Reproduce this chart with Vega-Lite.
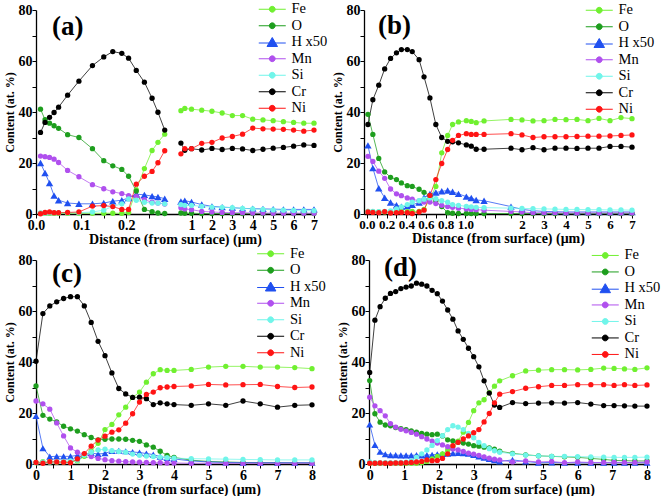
{
"$schema": "https://vega.github.io/schema/vega-lite/v6.json",
"padding": {"left": 3, "top": 2, "right": 0, "bottom": 0},
"config": {
 "view": {"stroke": null},
 "font": "Liberation Serif, Times New Roman, serif",
 "axis": {"grid": false, "domainColor": "#000", "domainWidth": 1.3, "tickColor": "#000", "tickWidth": 1, "tickSize": 4, "labelFont": "Liberation Serif, Times New Roman, serif", "labelFontWeight": "bold", "labelFontSize": 14, "labelColor": "#000", "titleFont": "Liberation Serif, Times New Roman, serif", "titleFontWeight": "bold", "titleColor": "#000", "labelFlush": false, "labelOverlap": false, "labelPadding": 0},
 "axisX": {"titleFontSize": 14, "titlePadding": 0},
 "axisY": {"titleFontSize": 12, "titlePadding": 2},
 "legend": {"labelFont": "Liberation Serif, Times New Roman, serif", "labelFontSize": 14.5, "labelColor": "#000", "symbolSize": 100, "labelOffset": 12, "rowPadding": 1.5, "padding": 0, "symbolStrokeWidth": 1, "symbolOpacity": 1},
 "title": {"font": "Liberation Serif, Times New Roman, serif", "fontSize": 27, "fontWeight": "bold", "color": "#000", "anchor": "start", "frame": "group"},
 "line": {"strokeWidth": 1, "opacity": 0.75},
 "point": {"filled": true, "opacity": 1, "strokeWidth": 0}
},
"datasets": {
"a": [
{"k":"Fe","x":0.01,"y":0.3},{"k":"Fe","x":0.02,"y":0.3},{"k":"Fe","x":0.03,"y":0.3},{"k":"Fe","x":0.04,"y":0.3},{"k":"Fe","x":0.05,"y":0.3},{"k":"Fe","x":0.07,"y":0.3},{"k":"Fe","x":0.095,"y":0.3},{"k":"Fe","x":0.125,"y":0.3},{"k":"Fe","x":0.15,"y":0.3},{"k":"Fe","x":0.17,"y":0.3},{"k":"Fe","x":0.19,"y":0.3},{"k":"Fe","x":0.205,"y":0.6},{"k":"Fe","x":0.222,"y":9.5},{"k":"Fe","x":0.24,"y":17.8},{"k":"Fe","x":0.257,"y":24.9},{"k":"Fe","x":0.27,"y":28.1},{"k":"Fe","x":0.285,"y":31.3},{"k":"Fe","x":0.48,"y":40.5},{"k":"Fe","x":0.67,"y":41.4},{"k":"Fe","x":1,"y":41.1},{"k":"Fe","x":1.5,"y":40.7},{"k":"Fe","x":2,"y":40.3},{"k":"Fe","x":2.5,"y":39.6},{"k":"Fe","x":3,"y":38.6},{"k":"Fe","x":3.5,"y":38.6},{"k":"Fe","x":4,"y":37.2},{"k":"Fe","x":4.5,"y":36.9},{"k":"Fe","x":5,"y":36.6},{"k":"Fe","x":5.5,"y":36.2},{"k":"Fe","x":6,"y":35.9},{"k":"Fe","x":6.5,"y":35.6},{"k":"Fe","x":7,"y":35.6},
{"k":"O","x":0.01,"y":41.1},{"k":"O","x":0.02,"y":37.0},{"k":"O","x":0.03,"y":35.6},{"k":"O","x":0.04,"y":34.6},{"k":"O","x":0.05,"y":33.6},{"k":"O","x":0.07,"y":31.1},{"k":"O","x":0.095,"y":30.0},{"k":"O","x":0.125,"y":25.6},{"k":"O","x":0.15,"y":20.9},{"k":"O","x":0.17,"y":18.9},{"k":"O","x":0.19,"y":17.5},{"k":"O","x":0.205,"y":14.8},{"k":"O","x":0.222,"y":9.0},{"k":"O","x":0.24,"y":1.8},{"k":"O","x":0.257,"y":0.9},{"k":"O","x":0.27,"y":0.4},{"k":"O","x":0.285,"y":0.2},{"k":"O","x":0.48,"y":0.4},{"k":"O","x":0.67,"y":0.3},{"k":"O","x":1,"y":0.3},{"k":"O","x":1.5,"y":0.2},{"k":"O","x":2,"y":0.2},{"k":"O","x":2.5,"y":0.2},{"k":"O","x":3,"y":0.2},{"k":"O","x":3.5,"y":0.2},{"k":"O","x":4,"y":0.2},{"k":"O","x":4.5,"y":0.2},{"k":"O","x":5,"y":0.2},{"k":"O","x":5.5,"y":0.2},{"k":"O","x":6,"y":0.2},{"k":"O","x":6.5,"y":0.2},{"k":"O","x":7,"y":0.2},
{"k":"H x50","x":0.01,"y":20.0},{"k":"H x50","x":0.02,"y":16.1},{"k":"H x50","x":0.03,"y":12.1},{"k":"H x50","x":0.04,"y":7.2},{"k":"H x50","x":0.05,"y":5.4},{"k":"H x50","x":0.07,"y":4.3},{"k":"H x50","x":0.095,"y":4.0},{"k":"H x50","x":0.125,"y":4.0},{"k":"H x50","x":0.15,"y":4.3},{"k":"H x50","x":0.17,"y":5.0},{"k":"H x50","x":0.19,"y":5.4},{"k":"H x50","x":0.205,"y":6.3},{"k":"H x50","x":0.222,"y":7.8},{"k":"H x50","x":0.24,"y":7.5},{"k":"H x50","x":0.257,"y":7.0},{"k":"H x50","x":0.27,"y":6.7},{"k":"H x50","x":0.285,"y":6.0},{"k":"H x50","x":0.48,"y":4.9},{"k":"H x50","x":0.67,"y":5.2},{"k":"H x50","x":1,"y":4.7},{"k":"H x50","x":1.5,"y":3.7},{"k":"H x50","x":2,"y":3.0},{"k":"H x50","x":2.5,"y":2.7},{"k":"H x50","x":3,"y":2.5},{"k":"H x50","x":3.5,"y":2.2},{"k":"H x50","x":4,"y":2.1},{"k":"H x50","x":4.5,"y":2.0},{"k":"H x50","x":5,"y":1.9},{"k":"H x50","x":5.5,"y":1.8},{"k":"H x50","x":6,"y":1.8},{"k":"H x50","x":6.5,"y":1.8},{"k":"H x50","x":7,"y":1.8},
{"k":"Mn","x":0.01,"y":22.7},{"k":"Mn","x":0.02,"y":22.5},{"k":"Mn","x":0.03,"y":22.2},{"k":"Mn","x":0.04,"y":21.5},{"k":"Mn","x":0.05,"y":20.2},{"k":"Mn","x":0.07,"y":17.1},{"k":"Mn","x":0.095,"y":14.6},{"k":"Mn","x":0.125,"y":11.5},{"k":"Mn","x":0.15,"y":9.9},{"k":"Mn","x":0.17,"y":8.7},{"k":"Mn","x":0.19,"y":8.0},{"k":"Mn","x":0.205,"y":7.2},{"k":"Mn","x":0.222,"y":6.9},{"k":"Mn","x":0.24,"y":5.6},{"k":"Mn","x":0.257,"y":4.6},{"k":"Mn","x":0.27,"y":4.3},{"k":"Mn","x":0.285,"y":3.9},{"k":"Mn","x":0.48,"y":2.5},{"k":"Mn","x":0.67,"y":2.0},{"k":"Mn","x":1,"y":1.7},{"k":"Mn","x":1.5,"y":1.0},{"k":"Mn","x":2,"y":0.8},{"k":"Mn","x":2.5,"y":0.6},{"k":"Mn","x":3,"y":0.5},{"k":"Mn","x":3.5,"y":0.5},{"k":"Mn","x":4,"y":0.4},{"k":"Mn","x":4.5,"y":0.4},{"k":"Mn","x":5,"y":0.3},{"k":"Mn","x":5.5,"y":0.3},{"k":"Mn","x":6,"y":0.3},{"k":"Mn","x":6.5,"y":0.3},{"k":"Mn","x":7,"y":0.3},
{"k":"Si","x":0.01,"y":0.4},{"k":"Si","x":0.02,"y":0.4},{"k":"Si","x":0.03,"y":0.5},{"k":"Si","x":0.04,"y":0.5},{"k":"Si","x":0.05,"y":0.5},{"k":"Si","x":0.07,"y":0.5},{"k":"Si","x":0.095,"y":0.5},{"k":"Si","x":0.125,"y":0.8},{"k":"Si","x":0.15,"y":1.5},{"k":"Si","x":0.17,"y":3.0},{"k":"Si","x":0.19,"y":4.0},{"k":"Si","x":0.205,"y":5.9},{"k":"Si","x":0.222,"y":5.4},{"k":"Si","x":0.24,"y":4.6},{"k":"Si","x":0.257,"y":4.3},{"k":"Si","x":0.27,"y":4.3},{"k":"Si","x":0.285,"y":4.0},{"k":"Si","x":0.48,"y":3.7},{"k":"Si","x":0.67,"y":3.4},{"k":"Si","x":1,"y":3.4},{"k":"Si","x":1.5,"y":3.0},{"k":"Si","x":2,"y":2.7},{"k":"Si","x":2.5,"y":2.6},{"k":"Si","x":3,"y":2.5},{"k":"Si","x":3.5,"y":2.2},{"k":"Si","x":4,"y":2.0},{"k":"Si","x":4.5,"y":1.8},{"k":"Si","x":5,"y":1.6},{"k":"Si","x":5.5,"y":1.5},{"k":"Si","x":6,"y":1.4},{"k":"Si","x":6.5,"y":1.3},{"k":"Si","x":7,"y":1.3},
{"k":"Cr","x":0.01,"y":32.0},{"k":"Cr","x":0.02,"y":35.9},{"k":"Cr","x":0.03,"y":37.9},{"k":"Cr","x":0.04,"y":39.8},{"k":"Cr","x":0.05,"y":41.9},{"k":"Cr","x":0.07,"y":46.6},{"k":"Cr","x":0.095,"y":52.1},{"k":"Cr","x":0.125,"y":58.2},{"k":"Cr","x":0.15,"y":61.6},{"k":"Cr","x":0.17,"y":63.7},{"k":"Cr","x":0.19,"y":63.0},{"k":"Cr","x":0.205,"y":61.1},{"k":"Cr","x":0.222,"y":56.3},{"k":"Cr","x":0.24,"y":51.7},{"k":"Cr","x":0.257,"y":45.4},{"k":"Cr","x":0.27,"y":39.9},{"k":"Cr","x":0.285,"y":32.9},{"k":"Cr","x":0.48,"y":27.8},{"k":"Cr","x":0.67,"y":25.0},{"k":"Cr","x":1,"y":25.6},{"k":"Cr","x":1.5,"y":25.1},{"k":"Cr","x":2,"y":25.7},{"k":"Cr","x":2.5,"y":25.3},{"k":"Cr","x":3,"y":25.7},{"k":"Cr","x":3.5,"y":25.5},{"k":"Cr","x":4,"y":24.9},{"k":"Cr","x":4.5,"y":25.4},{"k":"Cr","x":5,"y":25.8},{"k":"Cr","x":5.5,"y":26.1},{"k":"Cr","x":6,"y":26.6},{"k":"Cr","x":6.5,"y":27.1},{"k":"Cr","x":7,"y":26.9},
{"k":"Ni","x":0.01,"y":0.1},{"k":"Ni","x":0.02,"y":0.6},{"k":"Ni","x":0.03,"y":0.8},{"k":"Ni","x":0.04,"y":0.5},{"k":"Ni","x":0.05,"y":0.5},{"k":"Ni","x":0.07,"y":0.6},{"k":"Ni","x":0.095,"y":0.8},{"k":"Ni","x":0.125,"y":3.1},{"k":"Ni","x":0.15,"y":3.3},{"k":"Ni","x":0.17,"y":2.9},{"k":"Ni","x":0.19,"y":1.8},{"k":"Ni","x":0.205,"y":1.8},{"k":"Ni","x":0.222,"y":11.7},{"k":"Ni","x":0.24,"y":14.8},{"k":"Ni","x":0.257,"y":16.7},{"k":"Ni","x":0.27,"y":20.1},{"k":"Ni","x":0.285,"y":24.8},{"k":"Ni","x":0.48,"y":23.6},{"k":"Ni","x":0.67,"y":25.6},{"k":"Ni","x":1,"y":25.6},{"k":"Ni","x":1.5,"y":27.7},{"k":"Ni","x":2,"y":28.1},{"k":"Ni","x":2.5,"y":29.8},{"k":"Ni","x":3,"y":30.4},{"k":"Ni","x":3.5,"y":31.3},{"k":"Ni","x":4,"y":33.7},{"k":"Ni","x":4.5,"y":33.4},{"k":"Ni","x":5,"y":33.3},{"k":"Ni","x":5.5,"y":33.2},{"k":"Ni","x":6,"y":32.9},{"k":"Ni","x":6.5,"y":32.5},{"k":"Ni","x":7,"y":32.9}
],
"b": [
{"k":"Fe","x":0.01,"y":1.0},{"k":"Fe","x":0.06,"y":0.9},{"k":"Fe","x":0.12,"y":0.8},{"k":"Fe","x":0.18,"y":0.8},{"k":"Fe","x":0.24,"y":0.8},{"k":"Fe","x":0.3,"y":0.9},{"k":"Fe","x":0.35,"y":0.9},{"k":"Fe","x":0.41,"y":0.9},{"k":"Fe","x":0.46,"y":1.0},{"k":"Fe","x":0.53,"y":1.0},{"k":"Fe","x":0.58,"y":1.8},{"k":"Fe","x":0.64,"y":6.0},{"k":"Fe","x":0.7,"y":10.8},{"k":"Fe","x":0.76,"y":24.0},{"k":"Fe","x":0.82,"y":30.8},{"k":"Fe","x":0.87,"y":35.1},{"k":"Fe","x":0.93,"y":36.1},{"k":"Fe","x":1.01,"y":36.6},{"k":"Fe","x":1.06,"y":36.3},{"k":"Fe","x":1.11,"y":35.8},{"k":"Fe","x":1.19,"y":36.5},{"k":"Fe","x":1.5,"y":37.1},{"k":"Fe","x":2,"y":36.9},{"k":"Fe","x":2.5,"y":36.5},{"k":"Fe","x":3,"y":36.6},{"k":"Fe","x":3.5,"y":37.1},{"k":"Fe","x":4,"y":37.0},{"k":"Fe","x":4.5,"y":37.1},{"k":"Fe","x":5,"y":36.6},{"k":"Fe","x":5.5,"y":37.5},{"k":"Fe","x":6,"y":36.6},{"k":"Fe","x":6.5,"y":37.8},{"k":"Fe","x":7,"y":37.4},
{"k":"O","x":0.01,"y":39.1},{"k":"O","x":0.06,"y":31.2},{"k":"O","x":0.12,"y":21.8},{"k":"O","x":0.18,"y":16.5},{"k":"O","x":0.24,"y":14.4},{"k":"O","x":0.3,"y":13.5},{"k":"O","x":0.35,"y":12.2},{"k":"O","x":0.41,"y":11.1},{"k":"O","x":0.46,"y":10.8},{"k":"O","x":0.53,"y":9.7},{"k":"O","x":0.58,"y":8.5},{"k":"O","x":0.64,"y":7.2},{"k":"O","x":0.7,"y":5.2},{"k":"O","x":0.76,"y":2.9},{"k":"O","x":0.82,"y":0.5},{"k":"O","x":0.87,"y":0.3},{"k":"O","x":0.93,"y":0.2},{"k":"O","x":1.01,"y":0.2},{"k":"O","x":1.06,"y":0.2},{"k":"O","x":1.11,"y":0.2},{"k":"O","x":1.19,"y":0.2},{"k":"O","x":1.5,"y":0.2},{"k":"O","x":2,"y":0.2},{"k":"O","x":2.5,"y":0.2},{"k":"O","x":3,"y":0.2},{"k":"O","x":3.5,"y":0.2},{"k":"O","x":4,"y":0.2},{"k":"O","x":4.5,"y":0.2},{"k":"O","x":5,"y":0.2},{"k":"O","x":5.5,"y":0.2},{"k":"O","x":6,"y":0.2},{"k":"O","x":6.5,"y":0.2},{"k":"O","x":7,"y":0.2},
{"k":"H x50","x":0.01,"y":26.9},{"k":"H x50","x":0.06,"y":18.0},{"k":"H x50","x":0.12,"y":10.1},{"k":"H x50","x":0.18,"y":6.4},{"k":"H x50","x":0.24,"y":4.5},{"k":"H x50","x":0.3,"y":3.4},{"k":"H x50","x":0.35,"y":2.9},{"k":"H x50","x":0.41,"y":3.0},{"k":"H x50","x":0.46,"y":3.6},{"k":"H x50","x":0.53,"y":4.5},{"k":"H x50","x":0.58,"y":6.5},{"k":"H x50","x":0.64,"y":7.9},{"k":"H x50","x":0.7,"y":8.4},{"k":"H x50","x":0.76,"y":8.9},{"k":"H x50","x":0.82,"y":9.2},{"k":"H x50","x":0.87,"y":8.7},{"k":"H x50","x":0.93,"y":7.9},{"k":"H x50","x":1.01,"y":6.8},{"k":"H x50","x":1.06,"y":6.3},{"k":"H x50","x":1.11,"y":5.5},{"k":"H x50","x":1.19,"y":5.2},{"k":"H x50","x":1.5,"y":2.9},{"k":"H x50","x":2,"y":1.8},{"k":"H x50","x":2.5,"y":1.3},{"k":"H x50","x":3,"y":1.0},{"k":"H x50","x":3.5,"y":0.9},{"k":"H x50","x":4,"y":0.8},{"k":"H x50","x":4.5,"y":0.8},{"k":"H x50","x":5,"y":0.8},{"k":"H x50","x":5.5,"y":0.8},{"k":"H x50","x":6,"y":0.8},{"k":"H x50","x":6.5,"y":0.8},{"k":"H x50","x":7,"y":0.8},
{"k":"Mn","x":0.01,"y":22.6},{"k":"Mn","x":0.06,"y":20.6},{"k":"Mn","x":0.12,"y":16.8},{"k":"Mn","x":0.18,"y":14.0},{"k":"Mn","x":0.24,"y":9.8},{"k":"Mn","x":0.3,"y":7.9},{"k":"Mn","x":0.35,"y":7.2},{"k":"Mn","x":0.41,"y":6.3},{"k":"Mn","x":0.46,"y":5.8},{"k":"Mn","x":0.53,"y":5.1},{"k":"Mn","x":0.58,"y":4.7},{"k":"Mn","x":0.64,"y":4.7},{"k":"Mn","x":0.7,"y":4.1},{"k":"Mn","x":0.76,"y":3.4},{"k":"Mn","x":0.82,"y":2.9},{"k":"Mn","x":0.87,"y":2.6},{"k":"Mn","x":0.93,"y":2.3},{"k":"Mn","x":1.01,"y":2.0},{"k":"Mn","x":1.06,"y":1.8},{"k":"Mn","x":1.11,"y":1.7},{"k":"Mn","x":1.19,"y":1.5},{"k":"Mn","x":1.5,"y":1.0},{"k":"Mn","x":2,"y":0.8},{"k":"Mn","x":2.5,"y":0.5},{"k":"Mn","x":3,"y":0.5},{"k":"Mn","x":3.5,"y":0.5},{"k":"Mn","x":4,"y":0.4},{"k":"Mn","x":4.5,"y":0.4},{"k":"Mn","x":5,"y":0.4},{"k":"Mn","x":5.5,"y":0.4},{"k":"Mn","x":6,"y":0.4},{"k":"Mn","x":6.5,"y":0.4},{"k":"Mn","x":7,"y":0.4},
{"k":"Si","x":0.01,"y":1.0},{"k":"Si","x":0.06,"y":1.0},{"k":"Si","x":0.12,"y":0.9},{"k":"Si","x":0.18,"y":1.0},{"k":"Si","x":0.24,"y":1.2},{"k":"Si","x":0.3,"y":2.0},{"k":"Si","x":0.35,"y":2.8},{"k":"Si","x":0.41,"y":3.7},{"k":"Si","x":0.46,"y":4.6},{"k":"Si","x":0.53,"y":5.2},{"k":"Si","x":0.58,"y":5.8},{"k":"Si","x":0.64,"y":6.3},{"k":"Si","x":0.7,"y":6.0},{"k":"Si","x":0.76,"y":5.2},{"k":"Si","x":0.82,"y":4.6},{"k":"Si","x":0.87,"y":3.7},{"k":"Si","x":0.93,"y":3.4},{"k":"Si","x":1.01,"y":3.0},{"k":"Si","x":1.06,"y":2.8},{"k":"Si","x":1.11,"y":2.6},{"k":"Si","x":1.19,"y":2.5},{"k":"Si","x":1.5,"y":2.3},{"k":"Si","x":2,"y":2.2},{"k":"Si","x":2.5,"y":2.1},{"k":"Si","x":3,"y":2.0},{"k":"Si","x":3.5,"y":1.9},{"k":"Si","x":4,"y":1.8},{"k":"Si","x":4.5,"y":1.8},{"k":"Si","x":5,"y":1.7},{"k":"Si","x":5.5,"y":1.7},{"k":"Si","x":6,"y":1.6},{"k":"Si","x":6.5,"y":1.6},{"k":"Si","x":7,"y":1.5},
{"k":"Cr","x":0.01,"y":35.1},{"k":"Cr","x":0.06,"y":44.8},{"k":"Cr","x":0.12,"y":50.5},{"k":"Cr","x":0.18,"y":56.9},{"k":"Cr","x":0.24,"y":61.0},{"k":"Cr","x":0.3,"y":63.2},{"k":"Cr","x":0.35,"y":64.5},{"k":"Cr","x":0.41,"y":64.5},{"k":"Cr","x":0.46,"y":63.7},{"k":"Cr","x":0.53,"y":60.5},{"k":"Cr","x":0.58,"y":53.8},{"k":"Cr","x":0.64,"y":45.5},{"k":"Cr","x":0.7,"y":35.1},{"k":"Cr","x":0.76,"y":30.0},{"k":"Cr","x":0.82,"y":28.5},{"k":"Cr","x":0.87,"y":28.3},{"k":"Cr","x":0.93,"y":27.9},{"k":"Cr","x":1.01,"y":27.1},{"k":"Cr","x":1.06,"y":26.6},{"k":"Cr","x":1.11,"y":25.4},{"k":"Cr","x":1.19,"y":25.4},{"k":"Cr","x":1.5,"y":25.8},{"k":"Cr","x":2,"y":25.2},{"k":"Cr","x":2.5,"y":26.0},{"k":"Cr","x":3,"y":25.2},{"k":"Cr","x":3.5,"y":25.8},{"k":"Cr","x":4,"y":25.8},{"k":"Cr","x":4.5,"y":25.7},{"k":"Cr","x":5,"y":25.8},{"k":"Cr","x":5.5,"y":25.8},{"k":"Cr","x":6,"y":26.5},{"k":"Cr","x":6.5,"y":26.5},{"k":"Cr","x":7,"y":26.2},
{"k":"Ni","x":0.01,"y":0.8},{"k":"Ni","x":0.06,"y":0.6},{"k":"Ni","x":0.12,"y":0.5},{"k":"Ni","x":0.18,"y":0.9},{"k":"Ni","x":0.24,"y":0.4},{"k":"Ni","x":0.3,"y":0.5},{"k":"Ni","x":0.35,"y":0.6},{"k":"Ni","x":0.41,"y":0.5},{"k":"Ni","x":0.46,"y":0.2},{"k":"Ni","x":0.53,"y":0.8},{"k":"Ni","x":0.58,"y":1.5},{"k":"Ni","x":0.64,"y":7.3},{"k":"Ni","x":0.7,"y":13.5},{"k":"Ni","x":0.76,"y":19.8},{"k":"Ni","x":0.82,"y":25.3},{"k":"Ni","x":0.87,"y":28.9},{"k":"Ni","x":0.93,"y":30.8},{"k":"Ni","x":1.01,"y":31.5},{"k":"Ni","x":1.06,"y":31.2},{"k":"Ni","x":1.11,"y":31.2},{"k":"Ni","x":1.19,"y":31.2},{"k":"Ni","x":1.5,"y":31.5},{"k":"Ni","x":2,"y":31.0},{"k":"Ni","x":2.5,"y":30.0},{"k":"Ni","x":3,"y":30.3},{"k":"Ni","x":3.5,"y":30.3},{"k":"Ni","x":4,"y":30.3},{"k":"Ni","x":4.5,"y":30.4},{"k":"Ni","x":5,"y":30.5},{"k":"Ni","x":5.5,"y":30.5},{"k":"Ni","x":6,"y":30.6},{"k":"Ni","x":6.5,"y":30.8},{"k":"Ni","x":7,"y":31.0}
],
"c": [
{"k":"Fe","x":0,"y":0.5},{"k":"Fe","x":0.2,"y":0.9},{"k":"Fe","x":0.4,"y":0.8},{"k":"Fe","x":0.6,"y":0.7},{"k":"Fe","x":0.8,"y":0.8},{"k":"Fe","x":1,"y":0.9},{"k":"Fe","x":1.2,"y":1.2},{"k":"Fe","x":1.4,"y":3.0},{"k":"Fe","x":1.6,"y":5.0},{"k":"Fe","x":1.8,"y":8.1},{"k":"Fe","x":2,"y":13.5},{"k":"Fe","x":2.2,"y":15.5},{"k":"Fe","x":2.4,"y":19.3},{"k":"Fe","x":2.6,"y":22.3},{"k":"Fe","x":2.8,"y":26.1},{"k":"Fe","x":3,"y":28.2},{"k":"Fe","x":3.2,"y":32.1},{"k":"Fe","x":3.4,"y":35.4},{"k":"Fe","x":3.6,"y":37.0},{"k":"Fe","x":3.8,"y":36.7},{"k":"Fe","x":4,"y":36.7},{"k":"Fe","x":4.5,"y":37.1},{"k":"Fe","x":5,"y":38.0},{"k":"Fe","x":5.5,"y":38.3},{"k":"Fe","x":6,"y":38.3},{"k":"Fe","x":6.5,"y":38.0},{"k":"Fe","x":7,"y":38.0},{"k":"Fe","x":7.5,"y":37.8},{"k":"Fe","x":8,"y":37.4},
{"k":"O","x":0,"y":30.6},{"k":"O","x":0.2,"y":19.1},{"k":"O","x":0.4,"y":17.6},{"k":"O","x":0.6,"y":16.5},{"k":"O","x":0.8,"y":14.8},{"k":"O","x":1,"y":13.8},{"k":"O","x":1.2,"y":12.9},{"k":"O","x":1.4,"y":11.5},{"k":"O","x":1.6,"y":10.4},{"k":"O","x":1.8,"y":9.5},{"k":"O","x":2,"y":9.7},{"k":"O","x":2.2,"y":9.8},{"k":"O","x":2.4,"y":9.8},{"k":"O","x":2.6,"y":9.7},{"k":"O","x":2.8,"y":9.3},{"k":"O","x":3,"y":8.9},{"k":"O","x":3.2,"y":7.5},{"k":"O","x":3.4,"y":6.6},{"k":"O","x":3.6,"y":5.0},{"k":"O","x":3.8,"y":3.4},{"k":"O","x":4,"y":2.6},{"k":"O","x":4.5,"y":1.5},{"k":"O","x":5,"y":1.0},{"k":"O","x":5.5,"y":0.8},{"k":"O","x":6,"y":0.6},{"k":"O","x":6.5,"y":0.5},{"k":"O","x":7,"y":0.5},{"k":"O","x":7.5,"y":0.4},{"k":"O","x":8,"y":0.4},
{"k":"H x50","x":0,"y":18.8},{"k":"H x50","x":0.2,"y":6.2},{"k":"H x50","x":0.4,"y":2.9},{"k":"H x50","x":0.6,"y":3.0},{"k":"H x50","x":0.8,"y":3.0},{"k":"H x50","x":1,"y":3.0},{"k":"H x50","x":1.2,"y":3.4},{"k":"H x50","x":1.4,"y":3.7},{"k":"H x50","x":1.6,"y":4.3},{"k":"H x50","x":1.8,"y":3.9},{"k":"H x50","x":2,"y":4.2},{"k":"H x50","x":2.2,"y":5.1},{"k":"H x50","x":2.4,"y":5.2},{"k":"H x50","x":2.6,"y":5.0},{"k":"H x50","x":2.8,"y":4.7},{"k":"H x50","x":3,"y":4.5},{"k":"H x50","x":3.2,"y":4.1},{"k":"H x50","x":3.4,"y":3.7},{"k":"H x50","x":3.6,"y":2.9},{"k":"H x50","x":3.8,"y":2.4},{"k":"H x50","x":4,"y":2.0},{"k":"H x50","x":4.5,"y":1.2},{"k":"H x50","x":5,"y":0.8},{"k":"H x50","x":5.5,"y":0.6},{"k":"H x50","x":6,"y":0.5},{"k":"H x50","x":6.5,"y":0.5},{"k":"H x50","x":7,"y":0.5},{"k":"H x50","x":7.5,"y":0.5},{"k":"H x50","x":8,"y":0.5},
{"k":"Mn","x":0,"y":24.7},{"k":"Mn","x":0.2,"y":23.6},{"k":"Mn","x":0.4,"y":21.5},{"k":"Mn","x":0.6,"y":16.1},{"k":"Mn","x":0.8,"y":11.0},{"k":"Mn","x":1,"y":6.3},{"k":"Mn","x":1.2,"y":4.6},{"k":"Mn","x":1.4,"y":3.9},{"k":"Mn","x":1.6,"y":2.9},{"k":"Mn","x":1.8,"y":2.2},{"k":"Mn","x":2,"y":1.7},{"k":"Mn","x":2.2,"y":1.3},{"k":"Mn","x":2.4,"y":1.1},{"k":"Mn","x":2.6,"y":0.9},{"k":"Mn","x":2.8,"y":0.8},{"k":"Mn","x":3,"y":0.7},{"k":"Mn","x":3.2,"y":0.6},{"k":"Mn","x":3.4,"y":0.5},{"k":"Mn","x":3.6,"y":0.5},{"k":"Mn","x":3.8,"y":0.4},{"k":"Mn","x":4,"y":0.4},{"k":"Mn","x":4.5,"y":0.3},{"k":"Mn","x":5,"y":0.3},{"k":"Mn","x":5.5,"y":0.3},{"k":"Mn","x":6,"y":0.3},{"k":"Mn","x":6.5,"y":0.3},{"k":"Mn","x":7,"y":0.3},{"k":"Mn","x":7.5,"y":0.3},{"k":"Mn","x":8,"y":0.3},
{"k":"Si","x":0,"y":0.5},{"k":"Si","x":0.2,"y":0.7},{"k":"Si","x":0.4,"y":0.8},{"k":"Si","x":0.6,"y":0.9},{"k":"Si","x":0.8,"y":1.0},{"k":"Si","x":1,"y":1.2},{"k":"Si","x":1.2,"y":1.5},{"k":"Si","x":1.4,"y":3.5},{"k":"Si","x":1.6,"y":4.6},{"k":"Si","x":1.8,"y":5.5},{"k":"Si","x":2,"y":5.8},{"k":"Si","x":2.2,"y":5.2},{"k":"Si","x":2.4,"y":4.9},{"k":"Si","x":2.6,"y":4.6},{"k":"Si","x":2.8,"y":3.9},{"k":"Si","x":3,"y":3.4},{"k":"Si","x":3.2,"y":3.1},{"k":"Si","x":3.4,"y":2.9},{"k":"Si","x":3.6,"y":2.7},{"k":"Si","x":3.8,"y":2.5},{"k":"Si","x":4,"y":2.3},{"k":"Si","x":4.5,"y":2.1},{"k":"Si","x":5,"y":2.0},{"k":"Si","x":5.5,"y":1.9},{"k":"Si","x":6,"y":1.8},{"k":"Si","x":6.5,"y":1.7},{"k":"Si","x":7,"y":1.6},{"k":"Si","x":7.5,"y":1.6},{"k":"Si","x":8,"y":1.6},
{"k":"Cr","x":0,"y":40.3},{"k":"Cr","x":0.2,"y":59.0},{"k":"Cr","x":0.4,"y":62.0},{"k":"Cr","x":0.6,"y":63.6},{"k":"Cr","x":0.8,"y":64.9},{"k":"Cr","x":1,"y":65.6},{"k":"Cr","x":1.2,"y":65.6},{"k":"Cr","x":1.4,"y":62.0},{"k":"Cr","x":1.6,"y":55.5},{"k":"Cr","x":1.8,"y":48.1},{"k":"Cr","x":2,"y":42.5},{"k":"Cr","x":2.2,"y":35.7},{"k":"Cr","x":2.4,"y":29.6},{"k":"Cr","x":2.6,"y":27.5},{"k":"Cr","x":2.8,"y":26.1},{"k":"Cr","x":3,"y":26.2},{"k":"Cr","x":3.2,"y":25.6},{"k":"Cr","x":3.4,"y":23.3},{"k":"Cr","x":3.6,"y":24.0},{"k":"Cr","x":3.8,"y":23.6},{"k":"Cr","x":4,"y":23.3},{"k":"Cr","x":4.5,"y":23.0},{"k":"Cr","x":5,"y":23.6},{"k":"Cr","x":5.5,"y":23.0},{"k":"Cr","x":6,"y":24.7},{"k":"Cr","x":6.5,"y":23.6},{"k":"Cr","x":7,"y":22.3},{"k":"Cr","x":7.5,"y":23.0},{"k":"Cr","x":8,"y":23.2},
{"k":"Ni","x":0,"y":0.6},{"k":"Ni","x":0.2,"y":0.3},{"k":"Ni","x":0.4,"y":0.9},{"k":"Ni","x":0.6,"y":0.8},{"k":"Ni","x":0.8,"y":0.7},{"k":"Ni","x":1,"y":0.5},{"k":"Ni","x":1.2,"y":2.0},{"k":"Ni","x":1.4,"y":4.1},{"k":"Ni","x":1.6,"y":7.0},{"k":"Ni","x":1.8,"y":9.4},{"k":"Ni","x":2,"y":10.9},{"k":"Ni","x":2.2,"y":12.5},{"k":"Ni","x":2.4,"y":13.4},{"k":"Ni","x":2.6,"y":16.0},{"k":"Ni","x":2.8,"y":19.7},{"k":"Ni","x":3,"y":24.3},{"k":"Ni","x":3.2,"y":27.3},{"k":"Ni","x":3.4,"y":28.2},{"k":"Ni","x":3.6,"y":29.9},{"k":"Ni","x":3.8,"y":30.2},{"k":"Ni","x":4,"y":30.4},{"k":"Ni","x":4.5,"y":30.6},{"k":"Ni","x":5,"y":31.2},{"k":"Ni","x":5.5,"y":31.0},{"k":"Ni","x":6,"y":31.1},{"k":"Ni","x":6.5,"y":31.2},{"k":"Ni","x":7,"y":30.4},{"k":"Ni","x":7.5,"y":30.0},{"k":"Ni","x":8,"y":30.2}
],
"d": [
{"k":"Fe","x":0,"y":0.3},{"k":"Fe","x":0.15,"y":0.3},{"k":"Fe","x":0.3,"y":0.3},{"k":"Fe","x":0.45,"y":0.3},{"k":"Fe","x":0.6,"y":0.3},{"k":"Fe","x":0.75,"y":0.3},{"k":"Fe","x":0.9,"y":0.3},{"k":"Fe","x":1.05,"y":0.3},{"k":"Fe","x":1.2,"y":0.3},{"k":"Fe","x":1.35,"y":0.3},{"k":"Fe","x":1.5,"y":0.5},{"k":"Fe","x":1.65,"y":1.0},{"k":"Fe","x":1.8,"y":2.0},{"k":"Fe","x":1.95,"y":3.0},{"k":"Fe","x":2.1,"y":4.0},{"k":"Fe","x":2.25,"y":5.5},{"k":"Fe","x":2.4,"y":7.0},{"k":"Fe","x":2.55,"y":9.0},{"k":"Fe","x":2.7,"y":12.5},{"k":"Fe","x":2.85,"y":16.3},{"k":"Fe","x":3,"y":20.9},{"k":"Fe","x":3.15,"y":24.0},{"k":"Fe","x":3.3,"y":25.2},{"k":"Fe","x":3.45,"y":28.0},{"k":"Fe","x":3.6,"y":30.5},{"k":"Fe","x":3.75,"y":32.6},{"k":"Fe","x":4.12,"y":34.6},{"k":"Fe","x":4.5,"y":36.5},{"k":"Fe","x":4.87,"y":36.8},{"k":"Fe","x":5.25,"y":37.0},{"k":"Fe","x":5.62,"y":37.0},{"k":"Fe","x":6,"y":36.9},{"k":"Fe","x":6.38,"y":37.1},{"k":"Fe","x":6.75,"y":37.6},{"k":"Fe","x":7.05,"y":37.5},{"k":"Fe","x":7.35,"y":37.3},{"k":"Fe","x":7.65,"y":37.1},{"k":"Fe","x":8,"y":37.7},
{"k":"O","x":0,"y":32.7},{"k":"O","x":0.15,"y":19.7},{"k":"O","x":0.3,"y":16.4},{"k":"O","x":0.45,"y":15.3},{"k":"O","x":0.6,"y":15.0},{"k":"O","x":0.75,"y":14.3},{"k":"O","x":0.9,"y":13.9},{"k":"O","x":1.05,"y":13.5},{"k":"O","x":1.2,"y":13.0},{"k":"O","x":1.35,"y":12.5},{"k":"O","x":1.5,"y":12.0},{"k":"O","x":1.65,"y":11.7},{"k":"O","x":1.8,"y":11.5},{"k":"O","x":1.95,"y":11.7},{"k":"O","x":2.1,"y":11.0},{"k":"O","x":2.25,"y":9.5},{"k":"O","x":2.4,"y":9.1},{"k":"O","x":2.55,"y":8.5},{"k":"O","x":2.7,"y":8.2},{"k":"O","x":2.85,"y":7.8},{"k":"O","x":3,"y":7.2},{"k":"O","x":3.15,"y":7.0},{"k":"O","x":3.3,"y":6.6},{"k":"O","x":3.45,"y":6.3},{"k":"O","x":3.6,"y":5.8},{"k":"O","x":3.75,"y":5.0},{"k":"O","x":4.12,"y":4.2},{"k":"O","x":4.5,"y":3.6},{"k":"O","x":4.87,"y":3.2},{"k":"O","x":5.25,"y":3.0},{"k":"O","x":5.62,"y":2.8},{"k":"O","x":6,"y":2.6},{"k":"O","x":6.38,"y":2.2},{"k":"O","x":6.75,"y":1.8},{"k":"O","x":7.05,"y":1.4},{"k":"O","x":7.35,"y":1.3},{"k":"O","x":7.65,"y":1.2},{"k":"O","x":8,"y":1.2},
{"k":"H x50","x":0,"y":15.5},{"k":"H x50","x":0.15,"y":7.5},{"k":"H x50","x":0.3,"y":4.8},{"k":"H x50","x":0.45,"y":3.8},{"k":"H x50","x":0.6,"y":3.5},{"k":"H x50","x":0.75,"y":3.5},{"k":"H x50","x":0.9,"y":3.4},{"k":"H x50","x":1.05,"y":3.4},{"k":"H x50","x":1.2,"y":3.4},{"k":"H x50","x":1.35,"y":3.5},{"k":"H x50","x":1.5,"y":3.4},{"k":"H x50","x":1.65,"y":3.5},{"k":"H x50","x":1.8,"y":3.6},{"k":"H x50","x":1.95,"y":3.8},{"k":"H x50","x":2.1,"y":3.9},{"k":"H x50","x":2.25,"y":4.0},{"k":"H x50","x":2.4,"y":4.2},{"k":"H x50","x":2.55,"y":4.3},{"k":"H x50","x":2.7,"y":4.2},{"k":"H x50","x":2.85,"y":4.0},{"k":"H x50","x":3,"y":3.6},{"k":"H x50","x":3.15,"y":3.0},{"k":"H x50","x":3.3,"y":2.5},{"k":"H x50","x":3.45,"y":2.0},{"k":"H x50","x":3.6,"y":1.5},{"k":"H x50","x":3.75,"y":1.0},{"k":"H x50","x":4.12,"y":1.6},{"k":"H x50","x":4.5,"y":1.0},{"k":"H x50","x":4.87,"y":0.5},{"k":"H x50","x":5.25,"y":0.6},{"k":"H x50","x":5.62,"y":0.5},{"k":"H x50","x":6,"y":0.5},{"k":"H x50","x":6.38,"y":0.5},{"k":"H x50","x":6.75,"y":0.5},{"k":"H x50","x":7.05,"y":0.5},{"k":"H x50","x":7.35,"y":0.5},{"k":"H x50","x":7.65,"y":0.5},{"k":"H x50","x":8,"y":0.5},
{"k":"Mn","x":0,"y":26.2},{"k":"Mn","x":0.15,"y":22.8},{"k":"Mn","x":0.3,"y":20.9},{"k":"Mn","x":0.45,"y":18.9},{"k":"Mn","x":0.6,"y":15.8},{"k":"Mn","x":0.75,"y":14.5},{"k":"Mn","x":0.9,"y":13.6},{"k":"Mn","x":1.05,"y":13.0},{"k":"Mn","x":1.2,"y":12.4},{"k":"Mn","x":1.35,"y":11.7},{"k":"Mn","x":1.5,"y":10.7},{"k":"Mn","x":1.65,"y":9.8},{"k":"Mn","x":1.8,"y":9.0},{"k":"Mn","x":1.95,"y":8.2},{"k":"Mn","x":2.1,"y":7.5},{"k":"Mn","x":2.25,"y":6.8},{"k":"Mn","x":2.4,"y":5.9},{"k":"Mn","x":2.55,"y":5.5},{"k":"Mn","x":2.7,"y":4.9},{"k":"Mn","x":2.85,"y":4.3},{"k":"Mn","x":3,"y":3.9},{"k":"Mn","x":3.15,"y":3.4},{"k":"Mn","x":3.3,"y":2.8},{"k":"Mn","x":3.45,"y":2.3},{"k":"Mn","x":3.6,"y":1.9},{"k":"Mn","x":3.75,"y":1.6},{"k":"Mn","x":4.12,"y":0.8},{"k":"Mn","x":4.5,"y":1.2},{"k":"Mn","x":4.87,"y":0.8},{"k":"Mn","x":5.25,"y":1.0},{"k":"Mn","x":5.62,"y":0.5},{"k":"Mn","x":6,"y":0.8},{"k":"Mn","x":6.38,"y":0.6},{"k":"Mn","x":6.75,"y":0.6},{"k":"Mn","x":7.05,"y":0.7},{"k":"Mn","x":7.35,"y":0.6},{"k":"Mn","x":7.65,"y":0.6},{"k":"Mn","x":8,"y":0.8},
{"k":"Si","x":0,"y":0.8},{"k":"Si","x":0.15,"y":0.5},{"k":"Si","x":0.3,"y":0.5},{"k":"Si","x":0.45,"y":0.5},{"k":"Si","x":0.6,"y":0.5},{"k":"Si","x":0.75,"y":0.5},{"k":"Si","x":0.9,"y":0.6},{"k":"Si","x":1.05,"y":0.7},{"k":"Si","x":1.2,"y":1.2},{"k":"Si","x":1.35,"y":2.6},{"k":"Si","x":1.5,"y":4.0},{"k":"Si","x":1.65,"y":5.5},{"k":"Si","x":1.8,"y":7.3},{"k":"Si","x":1.95,"y":9.2},{"k":"Si","x":2.1,"y":11.1},{"k":"Si","x":2.25,"y":13.5},{"k":"Si","x":2.4,"y":15.0},{"k":"Si","x":2.55,"y":14.5},{"k":"Si","x":2.7,"y":13.5},{"k":"Si","x":2.85,"y":12.0},{"k":"Si","x":3,"y":10.3},{"k":"Si","x":3.15,"y":8.5},{"k":"Si","x":3.3,"y":7.2},{"k":"Si","x":3.45,"y":6.0},{"k":"Si","x":3.6,"y":5.2},{"k":"Si","x":3.75,"y":4.6},{"k":"Si","x":4.12,"y":4.0},{"k":"Si","x":4.5,"y":3.5},{"k":"Si","x":4.87,"y":3.2},{"k":"Si","x":5.25,"y":3.0},{"k":"Si","x":5.62,"y":3.0},{"k":"Si","x":6,"y":2.9},{"k":"Si","x":6.38,"y":2.8},{"k":"Si","x":6.75,"y":2.7},{"k":"Si","x":7.05,"y":2.6},{"k":"Si","x":7.35,"y":2.6},{"k":"Si","x":7.65,"y":2.6},{"k":"Si","x":8,"y":2.7},
{"k":"Cr","x":0,"y":35.9},{"k":"Cr","x":0.15,"y":56.4},{"k":"Cr","x":0.3,"y":61.7},{"k":"Cr","x":0.45,"y":65.0},{"k":"Cr","x":0.6,"y":66.9},{"k":"Cr","x":0.75,"y":67.6},{"k":"Cr","x":0.9,"y":68.8},{"k":"Cr","x":1.05,"y":69.4},{"k":"Cr","x":1.2,"y":69.8},{"k":"Cr","x":1.35,"y":70.9},{"k":"Cr","x":1.5,"y":70.5},{"k":"Cr","x":1.65,"y":69.8},{"k":"Cr","x":1.8,"y":68.1},{"k":"Cr","x":1.95,"y":66.8},{"k":"Cr","x":2.1,"y":63.9},{"k":"Cr","x":2.25,"y":60.4},{"k":"Cr","x":2.4,"y":56.8},{"k":"Cr","x":2.55,"y":52.2},{"k":"Cr","x":2.7,"y":48.9},{"k":"Cr","x":2.85,"y":45.4},{"k":"Cr","x":3,"y":42.1},{"k":"Cr","x":3.15,"y":38.1},{"k":"Cr","x":3.3,"y":32.6},{"k":"Cr","x":3.45,"y":27.8},{"k":"Cr","x":3.6,"y":23.1},{"k":"Cr","x":3.75,"y":22.2},{"k":"Cr","x":4.12,"y":24.1},{"k":"Cr","x":4.5,"y":23.7},{"k":"Cr","x":4.87,"y":23.9},{"k":"Cr","x":5.25,"y":24.0},{"k":"Cr","x":5.62,"y":23.9},{"k":"Cr","x":6,"y":24.1},{"k":"Cr","x":6.38,"y":23.5},{"k":"Cr","x":6.75,"y":22.9},{"k":"Cr","x":7.05,"y":22.9},{"k":"Cr","x":7.35,"y":22.8},{"k":"Cr","x":7.65,"y":22.7},{"k":"Cr","x":8,"y":22.7},
{"k":"Ni","x":0,"y":0.3},{"k":"Ni","x":0.15,"y":0.3},{"k":"Ni","x":0.3,"y":0.4},{"k":"Ni","x":0.45,"y":0.3},{"k":"Ni","x":0.6,"y":0.3},{"k":"Ni","x":0.75,"y":0.4},{"k":"Ni","x":0.9,"y":0.4},{"k":"Ni","x":1.05,"y":0.5},{"k":"Ni","x":1.2,"y":0.6},{"k":"Ni","x":1.35,"y":0.8},{"k":"Ni","x":1.5,"y":1.0},{"k":"Ni","x":1.65,"y":1.6},{"k":"Ni","x":1.8,"y":1.3},{"k":"Ni","x":1.95,"y":1.4},{"k":"Ni","x":2.1,"y":2.2},{"k":"Ni","x":2.25,"y":4.0},{"k":"Ni","x":2.4,"y":7.2},{"k":"Ni","x":2.55,"y":8.5},{"k":"Ni","x":2.7,"y":9.8},{"k":"Ni","x":2.85,"y":11.0},{"k":"Ni","x":3,"y":12.3},{"k":"Ni","x":3.15,"y":13.5},{"k":"Ni","x":3.3,"y":16.5},{"k":"Ni","x":3.45,"y":19.8},{"k":"Ni","x":3.6,"y":24.0},{"k":"Ni","x":3.75,"y":27.4},{"k":"Ni","x":4.12,"y":28.4},{"k":"Ni","x":4.5,"y":29.7},{"k":"Ni","x":4.87,"y":30.3},{"k":"Ni","x":5.25,"y":30.8},{"k":"Ni","x":5.62,"y":30.8},{"k":"Ni","x":6,"y":31.1},{"k":"Ni","x":6.38,"y":31.1},{"k":"Ni","x":6.75,"y":31.1},{"k":"Ni","x":7.05,"y":30.8},{"k":"Ni","x":7.35,"y":31.1},{"k":"Ni","x":7.65,"y":30.8},{"k":"Ni","x":8,"y":31.0}
]
},
"resolve": {"scale": {"color": "independent", "shape": "independent", "x": "independent", "y": "independent"}, "legend": {"color": "independent", "shape": "independent"}},
"spacing": 0,
"vconcat": [
{"hconcat": [
 {"width": 278, "height": 204, "data": {"name": "a"}, "title": {"text": "(a)", "offset": -39, "dx": 16},
  "encoding": {
   "x": {"field": "x", "type": "quantitative", "scale": {"domain": [0, 0.3, 0.45, 7], "range": [0, 135.5, 144.3, 278], "nice": false, "zero": false}, "axis": {"title": "Distance (from surface) (μm)", "values": [0,0.05,0.1,0.15,0.2,0.25,1,1.5,2,2.5,3,3.5,4,4.5,5,5.5,6,6.5,7], "labelExpr": "datum.value < 0.29 ? (round(datum.value*100) % 10 === 0 ? format(datum.value, '.1f') : '') : (datum.value % 1 === 0 ? format(datum.value, 'd') : '')"}},
   "y": {"field": "y", "type": "quantitative", "scale": {"domain": [0, 80], "nice": false, "zero": false}, "axis": {"title": "Content (at. %)", "values": [0,10,20,30,40,50,60,70,80], "labelExpr": "datum.value % 20 === 0 ? format(datum.value, 'd') : ''"}},
   "color": {"field": "k", "type": "nominal", "scale": {"domain": ["Fe","O","H x50","Mn","Si","Cr","Ni"], "range": ["#70F030","#1E9E1E","#2050F0","#B050EE","#70F5EA","#000000","#FF1414"]}, "legend": {"orient": "none", "legendX": 229, "legendY": -8, "title": null, "symbolType": "M-2.7,0H2.7M-0.58,0A0.58,0.58 0 1 1 0.58,0A0.58,0.58 0 1 1 -0.58,0Z"}}
  },
  "layer": [
   {"transform": [{"filter": "datum.x < 0.4"}], "mark": {"type": "line"}},
   {"transform": [{"filter": "datum.x > 0.4"}], "mark": {"type": "line"}},
   {"transform": [{"filter": "datum.k === 'H x50'"}], "mark": {"type": "point", "shape": "triangle-up", "size": 55}},
   {"transform": [{"filter": "datum.k !== 'H x50'"}], "mark": {"type": "point", "shape": "circle", "size": 28}},
   {"mark": {"type": "point", "size": 0}, "encoding": {"shape": {"field": "k", "type": "nominal", "scale": {"domain": ["Fe","O","H x50","Mn","Si","Cr","Ni"], "range": ["M-2.7,0H2.7M-0.58,0A0.58,0.58 0 1 1 0.58,0A0.58,0.58 0 1 1 -0.58,0Z","M-2.7,0H2.7M-0.58,0A0.58,0.58 0 1 1 0.58,0A0.58,0.58 0 1 1 -0.58,0Z","M-2.7,0.15H2.7M0,-0.95L1.05,0.85L-1.05,0.85Z","M-2.7,0H2.7M-0.58,0A0.58,0.58 0 1 1 0.58,0A0.58,0.58 0 1 1 -0.58,0Z","M-2.7,0H2.7M-0.58,0A0.58,0.58 0 1 1 0.58,0A0.58,0.58 0 1 1 -0.58,0Z","M-2.7,0H2.7M-0.58,0A0.58,0.58 0 1 1 0.58,0A0.58,0.58 0 1 1 -0.58,0Z","M-2.7,0H2.7M-0.58,0A0.58,0.58 0 1 1 0.58,0A0.58,0.58 0 1 1 -0.58,0Z"]}, "legend": {"orient": "none", "legendX": 229, "legendY": -8, "title": null}}}},
   {"data": {"values": [{"t": "//"}]}, "mark": {"type": "text", "fontSize": 13, "fontWeight": "bold", "font": "Liberation Serif, Times New Roman, serif"}, "encoding": {"x": {"datum": 0.385, "type": "quantitative"}, "y": {"datum": 0, "type": "quantitative"}, "text": {"field": "t"}, "color": {"value": "#000"}}}
  ]
 },
 {"width": 268, "height": 204, "data": {"name": "b"}, "title": {"text": "(b)", "offset": -37, "dx": 14},
  "encoding": {
   "x": {"field": "x", "type": "quantitative", "scale": {"domain": [-0.03, 1.35, 1.4, 7], "range": [0, 135.8, 144.8, 268], "nice": false, "zero": false}, "axis": {"title": "Distance (from surface) (μm)", "labelFontSize": 13, "values": [0,0.1,0.2,0.3,0.4,0.5,0.6,0.7,0.8,0.9,1,1.1,1.2,1.3,1.5,2,2.5,3,3.5,4,4.5,5,5.5,6,6.5,7], "labelExpr": "datum.value < 1.05 ? (round(datum.value*10) % 2 === 0 ? format(datum.value, '.1f') : '') : (datum.value % 1 === 0 && datum.value >= 2 ? format(datum.value, 'd') : '')"}},
   "y": {"field": "y", "type": "quantitative", "scale": {"domain": [0, 80], "nice": false, "zero": false}, "axis": {"title": "Content (at. %)", "values": [0,10,20,30,40,50,60,70,80], "labelExpr": "datum.value % 20 === 0 ? format(datum.value, 'd') : ''"}},
   "color": {"field": "k", "type": "nominal", "scale": {"domain": ["Fe","O","H x50","Mn","Si","Cr","Ni"], "range": ["#70F030","#1E9E1E","#2050F0","#B050EE","#70F5EA","#000000","#FF1414"]}, "legend": {"orient": "none", "legendX": 228, "legendY": -7, "title": null, "symbolType": "M-2.7,0H2.7M-0.58,0A0.58,0.58 0 1 1 0.58,0A0.58,0.58 0 1 1 -0.58,0Z"}}
  },
  "layer": [
   {"mark": {"type": "line"}},
   {"transform": [{"filter": "datum.k === 'H x50'"}], "mark": {"type": "point", "shape": "triangle-up", "size": 55}},
   {"transform": [{"filter": "datum.k !== 'H x50'"}], "mark": {"type": "point", "shape": "circle", "size": 28}},
   {"mark": {"type": "point", "size": 0}, "encoding": {"shape": {"field": "k", "type": "nominal", "scale": {"domain": ["Fe","O","H x50","Mn","Si","Cr","Ni"], "range": ["M-2.7,0H2.7M-0.58,0A0.58,0.58 0 1 1 0.58,0A0.58,0.58 0 1 1 -0.58,0Z","M-2.7,0H2.7M-0.58,0A0.58,0.58 0 1 1 0.58,0A0.58,0.58 0 1 1 -0.58,0Z","M-2.7,0.15H2.7M0,-0.95L1.05,0.85L-1.05,0.85Z","M-2.7,0H2.7M-0.58,0A0.58,0.58 0 1 1 0.58,0A0.58,0.58 0 1 1 -0.58,0Z","M-2.7,0H2.7M-0.58,0A0.58,0.58 0 1 1 0.58,0A0.58,0.58 0 1 1 -0.58,0Z","M-2.7,0H2.7M-0.58,0A0.58,0.58 0 1 1 0.58,0A0.58,0.58 0 1 1 -0.58,0Z","M-2.7,0H2.7M-0.58,0A0.58,0.58 0 1 1 0.58,0A0.58,0.58 0 1 1 -0.58,0Z"]}, "legend": {"orient": "none", "legendX": 228, "legendY": -7, "title": null}}}},
   {"data": {"values": [{"t": "//"}]}, "mark": {"type": "text", "fontSize": 13, "fontWeight": "bold", "font": "Liberation Serif, Times New Roman, serif"}, "encoding": {"x": {"datum": 1.373, "type": "quantitative"}, "y": {"datum": 0, "type": "quantitative"}, "text": {"field": "t"}, "color": {"value": "#000"}}}
  ]
 }
], "spacing": 3, "resolve": {"scale": {"color": "independent", "shape": "independent", "x": "independent", "y": "independent"}, "legend": {"color": "independent", "shape": "independent"}}},
{"hconcat": [
 {"width": 276, "height": 204, "data": {"name": "c"}, "title": {"text": "(c)", "offset": -41, "dx": 16},
  "encoding": {
   "x": {"field": "x", "type": "quantitative", "scale": {"domain": [0, 8], "nice": false, "zero": false}, "axis": {"title": "Distance (from surface) (μm)", "values": [0,0.5,1,1.5,2,2.5,3,3.5,4,4.5,5,5.5,6,6.5,7,7.5,8], "labelExpr": "datum.value % 1 === 0 ? format(datum.value, 'd') : ''"}},
   "y": {"field": "y", "type": "quantitative", "scale": {"domain": [0, 80], "nice": false, "zero": false}, "axis": {"title": "Content (at. %)", "values": [0,10,20,30,40,50,60,70,80], "labelExpr": "datum.value % 20 === 0 ? format(datum.value, 'd') : ''"}},
   "color": {"field": "k", "type": "nominal", "scale": {"domain": ["Fe","O","H x50","Mn","Si","Cr","Ni"], "range": ["#70F030","#1E9E1E","#2050F0","#B050EE","#70F5EA","#000000","#FF1414"]}, "legend": {"orient": "none", "legendX": 227.4, "legendY": -13.5, "title": null, "symbolType": "M-2.7,0H2.7M-0.58,0A0.58,0.58 0 1 1 0.58,0A0.58,0.58 0 1 1 -0.58,0Z"}}
  },
  "layer": [
   {"mark": {"type": "line"}},
   {"transform": [{"filter": "datum.k === 'H x50'"}], "mark": {"type": "point", "shape": "triangle-up", "size": 50}},
   {"transform": [{"filter": "datum.k !== 'H x50'"}], "mark": {"type": "point", "shape": "circle", "size": 28}},
   {"mark": {"type": "point", "size": 0}, "encoding": {"shape": {"field": "k", "type": "nominal", "scale": {"domain": ["Fe","O","H x50","Mn","Si","Cr","Ni"], "range": ["M-2.7,0H2.7M-0.58,0A0.58,0.58 0 1 1 0.58,0A0.58,0.58 0 1 1 -0.58,0Z","M-2.7,0H2.7M-0.58,0A0.58,0.58 0 1 1 0.58,0A0.58,0.58 0 1 1 -0.58,0Z","M-2.7,0.15H2.7M0,-0.95L1.05,0.85L-1.05,0.85Z","M-2.7,0H2.7M-0.58,0A0.58,0.58 0 1 1 0.58,0A0.58,0.58 0 1 1 -0.58,0Z","M-2.7,0H2.7M-0.58,0A0.58,0.58 0 1 1 0.58,0A0.58,0.58 0 1 1 -0.58,0Z","M-2.7,0H2.7M-0.58,0A0.58,0.58 0 1 1 0.58,0A0.58,0.58 0 1 1 -0.58,0Z","M-2.7,0H2.7M-0.58,0A0.58,0.58 0 1 1 0.58,0A0.58,0.58 0 1 1 -0.58,0Z"]}, "legend": {"orient": "none", "legendX": 227.4, "legendY": -13.5, "title": null}}}}
  ]
 },
 {"width": 278, "height": 204, "data": {"name": "d"}, "title": {"text": "(d)", "offset": -34, "dx": 15},
  "encoding": {
   "x": {"field": "x", "type": "quantitative", "scale": {"domain": [-0.02, 8], "nice": false, "zero": false}, "axis": {"title": "Distance (from surface) (μm)", "values": [0,0.5,1,1.5,2,2.5,3,3.5,4,4.5,5,5.5,6,6.5,7,7.5,8], "labelExpr": "datum.value % 1 === 0 ? format(datum.value, 'd') : ''"}},
   "y": {"field": "y", "type": "quantitative", "scale": {"domain": [0, 80], "nice": false, "zero": false}, "axis": {"title": "Content (at. %)", "values": [0,10,20,30,40,50,60,70,80], "labelExpr": "datum.value % 20 === 0 ? format(datum.value, 'd') : ''"}},
   "color": {"field": "k", "type": "nominal", "scale": {"domain": ["Fe","O","H x50","Mn","Si","Cr","Ni"], "range": ["#70F030","#1E9E1E","#2050F0","#B050EE","#70F5EA","#000000","#FF1414"]}, "legend": {"orient": "none", "legendX": 229, "legendY": -11.8, "title": null, "symbolType": "M-2.7,0H2.7M-0.58,0A0.58,0.58 0 1 1 0.58,0A0.58,0.58 0 1 1 -0.58,0Z"}}
  },
  "layer": [
   {"mark": {"type": "line"}},
   {"transform": [{"filter": "datum.k === 'H x50'"}], "mark": {"type": "point", "shape": "triangle-up", "size": 50}},
   {"transform": [{"filter": "datum.k !== 'H x50'"}], "mark": {"type": "point", "shape": "circle", "size": 28}},
   {"mark": {"type": "point", "size": 0}, "encoding": {"shape": {"field": "k", "type": "nominal", "scale": {"domain": ["Fe","O","H x50","Mn","Si","Cr","Ni"], "range": ["M-2.7,0H2.7M-0.58,0A0.58,0.58 0 1 1 0.58,0A0.58,0.58 0 1 1 -0.58,0Z","M-2.7,0H2.7M-0.58,0A0.58,0.58 0 1 1 0.58,0A0.58,0.58 0 1 1 -0.58,0Z","M-2.7,0.15H2.7M0,-0.95L1.05,0.85L-1.05,0.85Z","M-2.7,0H2.7M-0.58,0A0.58,0.58 0 1 1 0.58,0A0.58,0.58 0 1 1 -0.58,0Z","M-2.7,0H2.7M-0.58,0A0.58,0.58 0 1 1 0.58,0A0.58,0.58 0 1 1 -0.58,0Z","M-2.7,0H2.7M-0.58,0A0.58,0.58 0 1 1 0.58,0A0.58,0.58 0 1 1 -0.58,0Z","M-2.7,0H2.7M-0.58,0A0.58,0.58 0 1 1 0.58,0A0.58,0.58 0 1 1 -0.58,0Z"]}, "legend": {"orient": "none", "legendX": 229, "legendY": -11.8, "title": null}}}}
  ]
 }
], "spacing": 9, "resolve": {"scale": {"color": "independent", "shape": "independent", "x": "independent", "y": "independent"}, "legend": {"color": "independent", "shape": "independent"}}}
]
}
